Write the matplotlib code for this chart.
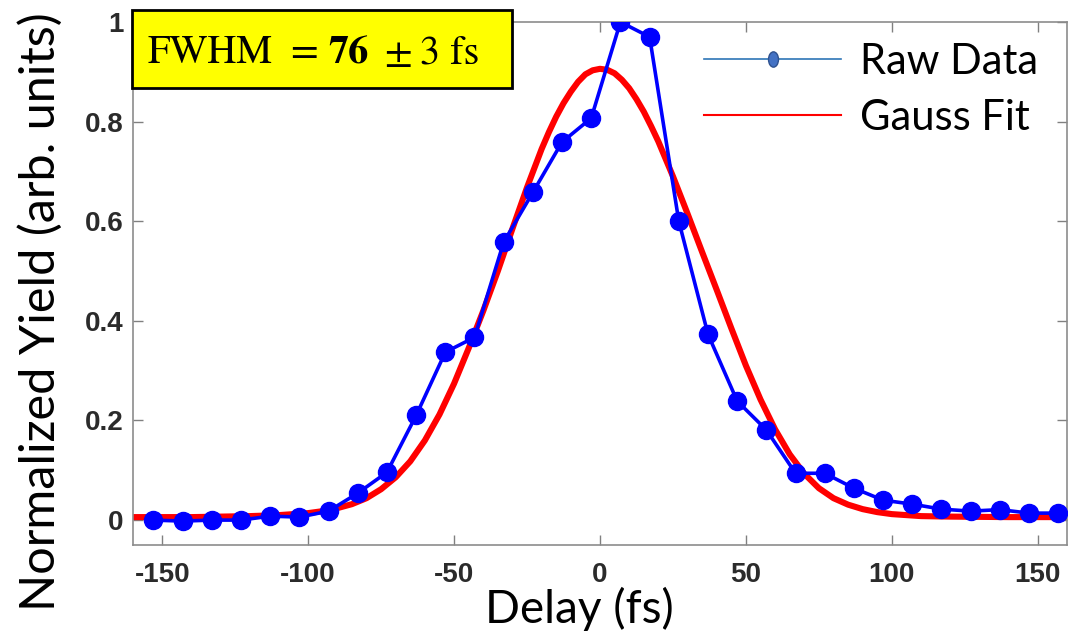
import matplotlib.pyplot as plt
import matplotlib.path as mpath
from matplotlib.lines import Line2D
from matplotlib.patches import Rectangle
from matplotlib.transforms import Affine2D

# raw data (delay in fs, normalized yield)
delay = [-153, -143, -133, -123, -113, -103, -93, -83, -73, -63, -53, -43,
         -33, -23, -13, -3, 7, 17, 27, 37, 47, 57, 67, 77, 87, 97, 107,
         117, 127, 137, 147, 157]
yield_raw = [0.000, -0.002, 0.000, 0.000, 0.008, 0.006, 0.018, 0.054, 0.096,
             0.210, 0.337, 0.367, 0.558, 0.658, 0.759, 0.807, 1.000, 0.970,
             0.600, 0.373, 0.239, 0.181, 0.094, 0.094, 0.064, 0.040, 0.032,
             0.022, 0.018, 0.021, 0.014, 0.014]

# gauss fit curve
fit_delay = [-160, -140, -120, -110, -100, -95, -90, -85, -80, -75, -70, -65,
             -60, -55, -50, -45, -40, -35, -30, -25, -20, -17.5, -15, -12.5,
             -10, -7.5, -5, -2.5, 0, 2.5, 5, 7.5, 10, 12.5, 15, 17.5, 20, 25,
             30, 35, 40, 45, 50, 55, 60, 65, 70, 75, 80, 85, 90, 95, 100,
             110, 120, 140, 160]
fit_yield = [0.006, 0.006, 0.008, 0.010, 0.014, 0.018, 0.024, 0.032, 0.044,
             0.062, 0.086, 0.118, 0.160, 0.212, 0.274, 0.345, 0.420, 0.500,
             0.585, 0.668, 0.745, 0.779, 0.810, 0.837, 0.860, 0.880, 0.895,
             0.903, 0.906, 0.904, 0.897, 0.884, 0.867, 0.845, 0.820, 0.791,
             0.760, 0.690, 0.615, 0.538, 0.462, 0.385, 0.310, 0.242, 0.182,
             0.132, 0.093, 0.064, 0.044, 0.031, 0.022, 0.016, 0.012, 0.008,
             0.007, 0.006, 0.006]

xticks = [-150, -100, -50, 0, 50, 100, 150]
yticks = [0, 0.2, 0.4, 0.6, 0.8, 1]
ytick_labels = ['0', '0.2', '0.4', '0.6', '0.8', '1']

W, H = 1068, 637
fig = plt.figure(figsize=(W / 100, H / 100), dpi=100)
ax = fig.add_axes([133 / W, 1 - 545 / H, (1067 - 133) / W, (545 - 22) / H])

ax.plot(fit_delay, fit_yield, color='#ff0000', lw=4.4, zorder=2,
        solid_joinstyle='round')
ax.plot(delay, yield_raw, color='#0000ff', lw=2.6, marker='o', ms=13,
        zorder=3)

ax.set_xlim(-160, 160)
ax.set_ylim(-0.05, 1.0)
ax.set_xticks(xticks)
ax.set_xticklabels([str(t) for t in xticks])
ax.set_yticks(yticks)
ax.set_yticklabels(ytick_labels)
ax.tick_params(direction='in', length=7, width=1, color='#808080',
               top=True, right=True)
ax.tick_params(axis='x', pad=12)
ax.tick_params(axis='y', pad=7)
for lab in ax.get_xticklabels() + ax.get_yticklabels():
    lab.set_fontfamily('Liberation Sans')
    lab.set_fontweight('bold')
    lab.set_fontsize(20)
    lab.set_color('#2b2b2b')
for sp in ax.spines.values():
    sp.set_color('#8c8c8c')
    sp.set_linewidth(1.2)

fig.text(579 / W, 1 - 609 / H, 'Delay (fs)', fontsize=33, family='Lato',
         ha='center', va='center')
fig.text(40 / W, 1 - 312 / H, 'Normalized Yield (arb. units)', fontsize=35,
         family='Lato', rotation=90, ha='center', va='center')

# legend: raw data marker is a narrow ellipse
ellipse = mpath.Path.unit_circle().transformed(Affine2D().scale(0.65, 1))
handles = [
    Line2D([], [], color='#2e75b6', lw=1.2, marker=ellipse, ms=11,
           markerfacecolor='#4472c4', markeredgecolor='#2f528f'),
    Line2D([], [], color='#ff0000', lw=1.5),
]
ax.legend(handles, ['Raw Data', 'Gauss Fit'], loc='upper left',
          bbox_to_anchor=(704 / W, 1 - 43 / H), bbox_transform=fig.transFigure,
          frameon=False, prop={'family': 'Lato', 'size': 30},
          handlelength=3.3, handletextpad=0.45, labelspacing=0.42,
          borderpad=0, borderaxespad=0)

# FWHM box, pieces placed one by one
fig.patches.append(Rectangle((132 / W, 1 - 88 / H), 380 / W, 78 / H,
                             transform=fig.transFigure, facecolor='#ffff00',
                             edgecolor='black', linewidth=2, zorder=10))
pieces = [(148, 'FWHM', 'normal'), (290, '=', 'normal'), (328, '76', 'bold'),
          (384, '±', 'normal'), (420, '3 fs', 'normal')]
for px, s, wt in pieces:
    fig.text(px / W, 1 - 63 / H, s, family='STIXGeneral', fontsize=29,
             fontweight=wt, ha='left', va='baseline', zorder=11)

fig.savefig('out.png', dpi=100)
